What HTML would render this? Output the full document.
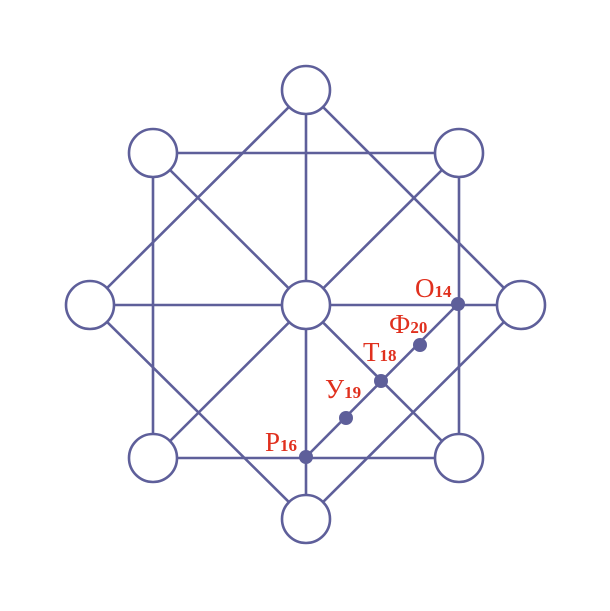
<!DOCTYPE html>
<html><head><meta charset="utf-8"><style>html,body{margin:0;padding:0;background:#fff}</style></head>
<body>
<svg width="610" height="606" xmlns="http://www.w3.org/2000/svg">
<g stroke="#5e5f9a" stroke-width="2.6" fill="none">
<polyline points="153,153 459,153 459,458 153,458 153,153"/>
<polygon points="306,90 521,305 306,519 90,305"/>
<line x1="306" y1="90" x2="306" y2="519"/>
<line x1="90" y1="305" x2="521" y2="305"/>
<line x1="153" y1="153" x2="459" y2="458"/>
<line x1="459" y1="153" x2="153" y2="458"/>
<line x1="306" y1="457" x2="458" y2="304"/>
</g>
<g stroke="#5e5f9a" stroke-width="2.6" fill="#fff">
<circle cx="306" cy="90" r="24"/>
<circle cx="153" cy="153" r="24"/>
<circle cx="459" cy="153" r="24"/>
<circle cx="90" cy="305" r="24"/>
<circle cx="306" cy="305" r="24"/>
<circle cx="521" cy="305" r="24"/>
<circle cx="153" cy="458" r="24"/>
<circle cx="459" cy="458" r="24"/>
<circle cx="306" cy="519" r="24"/>
</g>
<g fill="#5e5f9a">
<circle cx="458" cy="304" r="7"/>
<circle cx="420" cy="345" r="7"/>
<circle cx="381" cy="381" r="7"/>
<circle cx="346" cy="418" r="7"/>
<circle cx="306" cy="457" r="7"/>
</g>
<g fill="#e0301e" font-family="Liberation Serif, serif" font-size="27">
<text x="415" y="297">O<tspan font-size="17" font-weight="bold">14</tspan></text>
<text x="389" y="333">Ф<tspan font-size="17" font-weight="bold">20</tspan></text>
<text x="363" y="361">T<tspan font-size="17" font-weight="bold">18</tspan></text>
<text x="325" y="398">У<tspan font-size="17" font-weight="bold">19</tspan></text>
<text x="265" y="451">P<tspan font-size="17" font-weight="bold">16</tspan></text>
</g>
</svg>
</body></html>
